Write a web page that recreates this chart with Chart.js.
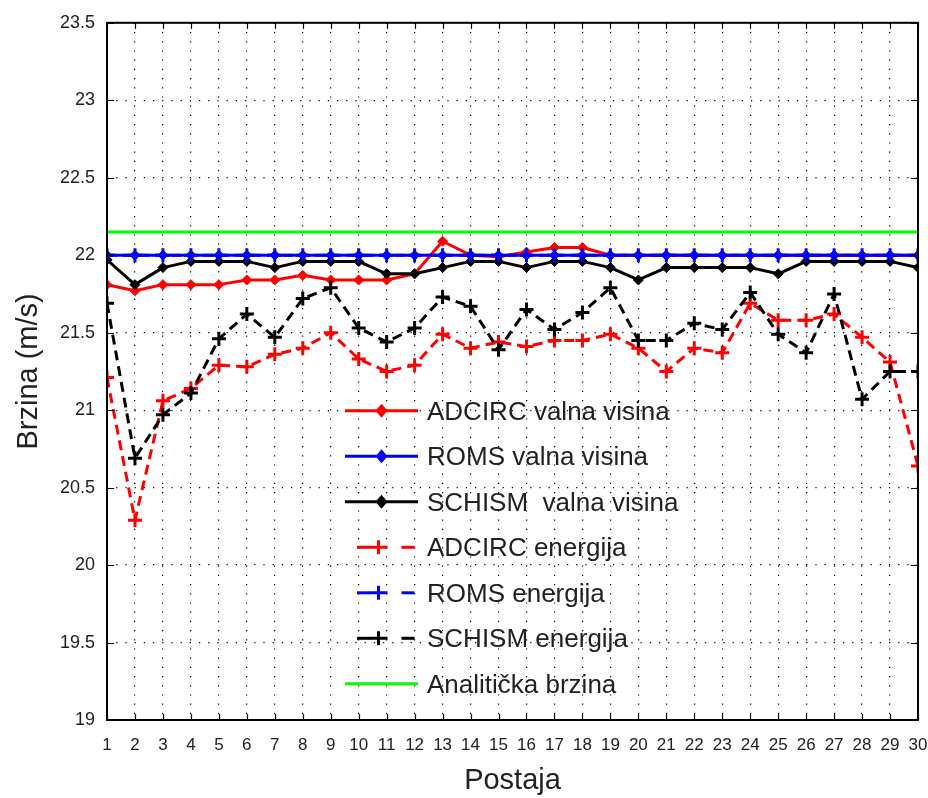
<!DOCTYPE html>
<html>
<head>
<meta charset="utf-8">
<script src="https://cdn.jsdelivr.net/npm/chart.js@4/dist/chart.umd.min.js"></script>
<style>
  html, body { margin: 0; padding: 0; background: #ffffff; }
  #wrap { width: 928px; height: 798px; }
</style>
</head>
<body>
<div id="wrap"><canvas id="c" width="928" height="798"></canvas></div>
<script>
const postaje = [1,2,3,4,5,6,7,8,9,10,11,12,13,14,15,16,17,18,19,20,21,22,23,24,25,26,27,28,29,30];
const yTicks = [19, 19.5, 20, 20.5, 21, 21.5, 22, 22.5, 23, 23.5];

const adcircValna = [21.81,21.77,21.81,21.81,21.81,21.84,21.84,21.87,21.84,21.84,21.84,21.88,22.09,22.00,21.99,22.02,22.05,22.05,22.00,22.00,22.00,22.00,22.00,22.00,22.00,22.00,22.00,22.00,22.00,22.00];
const romsValna = [22,22,22,22,22,22,22,22,22,22,22,22,22,22,22,22,22,22,22,22,22,22,22,22,22,22,22,22,22,22];
const schismValna = [21.97,21.81,21.92,21.96,21.96,21.96,21.92,21.96,21.96,21.96,21.88,21.88,21.92,21.96,21.96,21.92,21.96,21.96,21.92,21.84,21.92,21.92,21.92,21.92,21.88,21.96,21.96,21.96,21.96,21.92];
const adcircEnergija = [21.21,20.29,21.06,21.14,21.29,21.28,21.36,21.40,21.50,21.33,21.25,21.29,21.49,21.40,21.44,21.41,21.45,21.45,21.49,21.40,21.25,21.40,21.37,21.69,21.58,21.58,21.62,21.47,21.31,20.64];
const romsEnergija = [22,22,22,22,22,22,22,22,22,22,22,22,22,22,22,22,22,22,22,22,22,22,22,22,22,22,22,22,22,22];
const schismEnergija = [21.69,20.69,20.97,21.11,21.46,21.62,21.47,21.72,21.79,21.53,21.44,21.53,21.73,21.67,21.39,21.65,21.52,21.63,21.79,21.45,21.45,21.56,21.52,21.76,21.49,21.37,21.75,21.07,21.25,21.25];
const analiticka = [22.15,22.15,22.15,22.15,22.15,22.15,22.15,22.15,22.15,22.15,22.15,22.15,22.15,22.15,22.15,22.15,22.15,22.15,22.15,22.15,22.15,22.15,22.15,22.15,22.15,22.15,22.15,22.15,22.15,22.15];

const seriesNames = ['ADCIRC valna visina','ROMS valna visina','SCHISM  valna visina','ADCIRC energija','ROMS energija','SCHISM energija','Analitička brzina'];

function pts(arr) { return postaje.map((p, i) => ({ x: p, y: arr[i] })); }

const RED = '#ff0000', BLUE = '#0000ff', BLACK = '#000000', GREEN = '#00ff00';
const DASH = [10, 6];

function solidDiamond(label, arr, color, order) {
  return { label, data: pts(arr), borderColor: color, backgroundColor: color, borderWidth: 3,
    pointStyle: 'rectRot', pointRadius: 5, pointBorderWidth: 1, pointBackgroundColor: color, pointBorderColor: color,
    tension: 0, order };
}
function dashedCross(label, arr, color, order) {
  return { label, data: pts(arr), borderColor: color, backgroundColor: color, borderWidth: 3, borderDash: DASH,
    pointStyle: 'cross', pointRadius: 7, pointBorderWidth: 3, pointBorderColor: color, pointBackgroundColor: color,
    tension: 0, order };
}

const datasets = [
  solidDiamond(seriesNames[0], adcircValna, RED, 7),
  solidDiamond(seriesNames[1], romsValna, BLUE, 6),
  solidDiamond(seriesNames[2], schismValna, BLACK, 5),
  dashedCross(seriesNames[3], adcircEnergija, RED, 4),
  dashedCross(seriesNames[4], romsEnergija, BLUE, 3),
  dashedCross(seriesNames[5], schismEnergija, BLACK, 2),
  { label: seriesNames[6], data: pts(analiticka), borderColor: GREEN, backgroundColor: GREEN, borderWidth: 3,
    pointRadius: 0, tension: 0, order: 1 }
];

const FONT = "'Liberation Sans', Arial, sans-serif";

// inward ticks + frame + legend, drawn with the chart
const framePlugin = {
  id: 'frame',
  afterDatasetsDraw(chart) {
    const { ctx, chartArea: a, scales } = chart;
    ctx.save();
    ctx.strokeStyle = '#000';
    ctx.lineWidth = 1.2;
    ctx.beginPath();
    postaje.forEach(v => {
      const x = Math.round(scales.x.getPixelForValue(v)) + 0.5;
      ctx.moveTo(x, a.bottom); ctx.lineTo(x, a.bottom - 6);
      ctx.moveTo(x, a.top); ctx.lineTo(x, a.top + 6);
    });
    yTicks.forEach(v => {
      const y = Math.round(scales.y.getPixelForValue(v)) + 0.5;
      ctx.moveTo(a.left, y); ctx.lineTo(a.left + 7, y);
      ctx.moveTo(a.right, y); ctx.lineTo(a.right - 7, y);
    });
    ctx.stroke();
    ctx.lineWidth = 2;
    ctx.strokeRect(a.left, a.top, a.right - a.left, a.bottom - a.top);

    // legend
    const x0 = a.left + 238, x1 = a.left + 311, xm = (x0 + x1) / 2, xt = a.left + 320;
    const y0 = a.top + 388, dy = 45.5;
    ctx.font = "26px " + FONT;
    ctx.textBaseline = 'middle';
    ctx.textAlign = 'left';
    chart.data.datasets.forEach((ds, i) => {
      const y = y0 + i * dy;
      ctx.strokeStyle = ds.borderColor;
      ctx.fillStyle = ds.borderColor;
      ctx.lineWidth = 3;
      if (ds.borderDash) {
        ctx.setLineDash([13, 9]);
        ctx.lineDashOffset = -6;
        ctx.beginPath(); ctx.moveTo(x0 + 6, y); ctx.lineTo(xm - 4, y); ctx.stroke();
        ctx.beginPath(); ctx.moveTo(xm + 14, y); ctx.lineTo(x1, y); ctx.stroke();
        ctx.setLineDash([]);
        ctx.beginPath();
        ctx.moveTo(xm - 12, y); ctx.lineTo(xm + 6, y);
        ctx.moveTo(xm - 3, y - 7); ctx.lineTo(xm - 3, y + 7);
        ctx.stroke();
      } else {
        ctx.setLineDash([]);
        ctx.beginPath(); ctx.moveTo(x0, y); ctx.lineTo(x1, y); ctx.stroke();
        if (ds.pointRadius > 0) {
          ctx.beginPath();
          ctx.moveTo(xm, y - 7); ctx.lineTo(xm + 6, y); ctx.lineTo(xm, y + 7); ctx.lineTo(xm - 6, y);
          ctx.closePath(); ctx.fill();
        }
      }
      ctx.fillStyle = '#222';
      ctx.fillText(ds.label, xt, y + 2);
    });
    ctx.restore();
  }
};

new Chart(document.getElementById('c'), {
  type: 'line',
  data: { datasets },
  options: {
    responsive: false,
    animation: false,
    devicePixelRatio: 1,
    layout: { padding: { left: 0, top: 22, right: 8, bottom: 0 } },
    plugins: { legend: { display: false }, tooltip: { enabled: false } },
    elements: { line: { borderJoinStyle: 'round' } },
    scales: {
      x: {
        type: 'linear', min: 1, max: 30,
        afterFit(s) { s.height = 78; s.paddingRight = 0; s.paddingLeft = 0; },
        afterBuildTicks(s) { s.ticks = postaje.map(v => ({ value: v })); },
        ticks: { autoSkip: false, maxRotation: 0, padding: 15, color: '#222',
          font: { family: FONT, size: 17 } },
        grid: { color: '#000', lineWidth: 1.2, drawTicks: false },
        border: { display: false, dash: [1.2, 8] },
        title: { display: true, text: 'Postaja', color: '#222', font: { family: FONT, size: 29 }, padding: { top: 0, bottom: 0 } }
      },
      y: {
        type: 'linear', min: 19, max: 23.5,
        afterFit(s) { s.width = 107; },
        afterBuildTicks(s) { s.ticks = yTicks.map(v => ({ value: v })); },
        ticks: { padding: 12, color: '#222', font: { family: FONT, size: 18 },
          callback: v => String(v) },
        grid: { color: '#000', lineWidth: 1.2, drawTicks: false },
        border: { display: false, dash: [1.2, 8] },
        title: { display: true, text: 'Brzina (m/s)', color: '#222', font: { family: FONT, size: 29 }, padding: { top: 12, bottom: 0 } }
      }
    }
  },
  plugins: [framePlugin]
});
</script>
</body>
</html>
